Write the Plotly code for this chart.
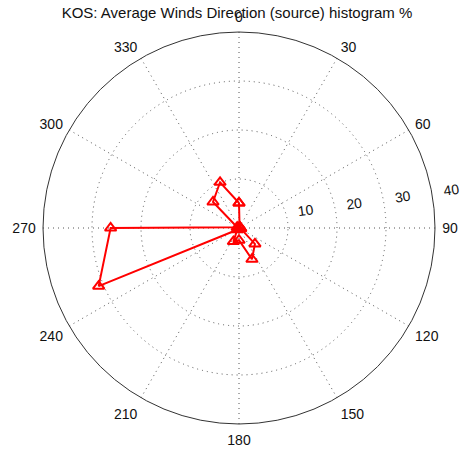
import plotly.graph_objects as go

# wind direction bins (deg, compass) and share of hours (%)
directions = [0, 22.5, 45, 67.5, 90, 112.5, 135, 157.5, 180,
              202.5, 225, 247.5, 270, 292.5, 315, 337.5, 360]
percent = [5.1, 0.3, 0.2, 0.2, 0.3, 0.4, 4.6, 6.9, 2.5,
           3.0, 0.5, 31.0, 26.2, 0.4, 7.5, 10.1, 5.1]

angle_ticks = list(range(0, 360, 30))
radial_ticks = [10, 20, 30, 40]

W, H = 462, 455
cx, cy, R = 239, 228, 196
# zero-width char keeps the padding from being trimmed
PAD = "\u200b" + "\u00a0" * 10

fig = go.Figure()
fig.add_trace(
    go.Scatterpolar(
        r=percent,
        theta=directions,
        mode="lines+markers",
        line=dict(color="#ff0000", width=2),
        marker=dict(symbol="triangle-up-open", size=10, color="#ff0000",
                    line=dict(width=2, color="#ff0000")),
        showlegend=False,
        hoverinfo="r+theta",
    )
)

fig.update_layout(
    width=W,
    height=H,
    autosize=False,
    paper_bgcolor="white",
    plot_bgcolor="white",
    margin=dict(l=0, r=0, t=0, b=0),
    font=dict(family="Liberation Sans, Arial, sans-serif", size=14, color="#111"),
    title=dict(
        text="KOS: Average Winds Direction (source) histogram %",
        x=237 / W, xanchor="center",
        y=1 - 13 / H, yanchor="middle",
        font=dict(size=15, color="#111"),
    ),
    polar=dict(
        domain=dict(x=[(cx - R) / W, (cx + R) / W],
                    y=[1 - (cy + R) / H, 1 - (cy - R) / H]),
        bgcolor="white",
        angularaxis=dict(
            rotation=90,
            direction="clockwise",
            tickmode="array",
            tickvals=angle_ticks,
            ticktext=[str(a) for a in angle_ticks],
            ticks="outside",
            ticklen=4,
            tickcolor="rgba(0,0,0,0)",
            showline=True,
            linecolor="#333",
            linewidth=1,
            showgrid=True,
            gridcolor="#555",
            griddash="1px,4px",
            gridwidth=1,
            tickfont=dict(size=14, color="#111"),
        ),
        radialaxis=dict(
            range=[0, 40],
            tickmode="array",
            tickvals=radial_ticks,
            ticktext=[PAD + str(t) for t in radial_ticks],
            angle=8,
            tickangle=0,
            side="counterclockwise",
            showline=False,
            ticks="",
            showgrid=True,
            gridcolor="#555",
            griddash="1px,4px",
            gridwidth=1,
            tickfont=dict(size=14, color="#111"),
        ),
    ),
)

fig.write_html(
    "out.html",
    config={"displayModeBar": False},
    post_script="document.body.style.margin='0px';",
)
